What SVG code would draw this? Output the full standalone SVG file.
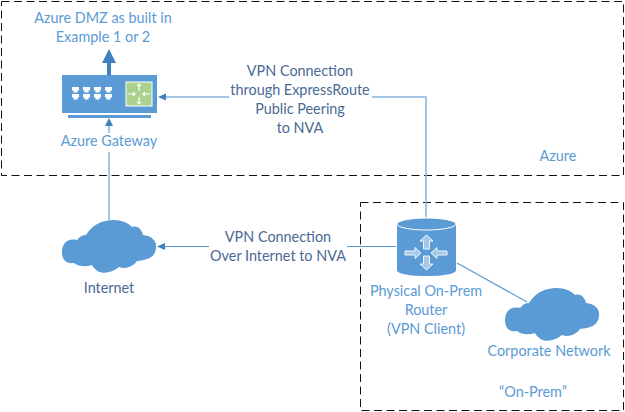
<svg xmlns="http://www.w3.org/2000/svg" width="625" height="412" viewBox="0 0 625 412">
<style>
text{font-family:Lato,"Liberation Sans",sans-serif;font-size:14.4px;text-anchor:middle}
.b{fill:#5b9bd5}
.d{fill:#4a6a94}
.zone{fill:none;stroke:#111;stroke-width:1;stroke-dasharray:8 4.500}
.c{fill:none;stroke:#5b9bd5;stroke-width:1.2}
.l{fill:none;stroke:#85b3de;stroke-width:1.500}
.h{fill:#3f80bd}
.w{fill:#fff}
.ar{fill:#fff;fill-opacity:.45;stroke:#fff;stroke-width:1;stroke-opacity:.85}
</style>
<defs>
<path id="cloud" class="b" d="M0 32C0 22 7 18 15 20C18 16 21 15 24 15C30 5 40 0 52 0C60 0 66 3 70 7C76 5 80 10 81 15C90 16 95 21 94 28C93 38 85 40 75 41C70 48 62 49 57 47C48 54 36 56 30 45C24 47 17 47 12 43C4 44 0 40 0 32Z"/>
</defs>
<g id="azure-zone"><rect class="zone" x="1.500" y="1.500" width="622" height="174"/><text class="b" x="558" y="161">Azure</text></g>
<g id="onprem-zone"><rect class="zone" x="360.500" y="202.500" width="263" height="208"/><text class="b" x="533" y="397">“On-Prem”</text></g>
<g id="connectors">
<path class="l" d="M109 220V152"/>
<path class="l" d="M109 133V126"/>
<path class="h" d="M109 118L113 126H105Z"/>
<path class="c" d="M396 246.500H164"/>
<path class="h" d="M157 246.500L165 243V250Z"/>
<path class="l" d="M426 217V97H165"/>
<path class="h" d="M158 97L166 93.500V100.500Z"/>
<path class="c" d="M457 263L527 302"/>
<path d="M109 75V62" stroke="#3f80bd" stroke-width="4" fill="none"/>
<path class="h" d="M109 49L116 63H102Z"/>
</g>
<g id="azure-dmz-label"><text class="b" x="103" y="23">Azure DMZ as built in</text><text class="b" x="103" y="42">Example 1 or 2</text></g>
<g id="azure-gateway">
<rect class="b" x="62" y="75" width="95" height="38"/>
<rect class="b" x="68" y="115" width="83" height="3"/>
<rect x="126" y="82" width="26" height="24" fill="#a9d18e" stroke="#fff"/>
<path class="w" d="M72 87h7v3.500h-1.500v2h-4v-2H72zM83 87h7v3.500h-1.500v2h-4v-2H83zM94 87h7v3.500h-1.500v2h-4v-2H94zM105 87h7v3.500h-1.500v2h-4v-2H105zM72 94h7v3.500h-1.500v2h-4v-2H72zM83 94h7v3.500h-1.500v2h-4v-2H83zM94 94h7v3.500h-1.500v2h-4v-2H94zM105 94h7v3.500h-1.500v2h-4v-2H105z"/>
<path d="M139 84v7M137 86l2-2 2 2M139 104v-7M137 102l2 2 2-2M128 94h7M133 92l2 2-2 2M150 94h-7M145 92l-2 2 2 2" fill="none" stroke="#fff" stroke-width="1.200"/>
<text class="b" x="109" y="146">Azure Gateway</text>
</g>
<g id="internet"><use href="#cloud" x="62" y="220"/><text class="d" x="109" y="293">Internet</text></g>
<g id="router">
<path class="b" d="M397 224V270C397 274 410 276 426.500 276S456 274 456 270V224Z"/>
<ellipse class="b" cx="426.500" cy="224" rx="29.500" ry="6" stroke="#fff" stroke-width="1"/>
<path class="ar" d="M423.500 249V241H420L426.500 235L433 241H429.500V249ZM423.500 256V264H420L426.500 270L433 264H429.500V256ZM405 251H415V247.500L421 253L415 258.500V255H405ZM447 251H437V247.500L431 253L437 258.500V255H447Z"/>
<text class="b" x="426" y="296">Physical On-Prem</text>
<text class="b" x="426" y="315">Router</text>
<text class="b" x="426" y="334">(VPN Client)</text>
</g>
<g id="corporate-network"><use href="#cloud" x="505" y="288"/><text class="b" x="549" y="356">Corporate Network</text></g>
<g id="label-expressroute">
<rect class="w" x="229" y="62" width="143" height="76"/>
<text class="d" x="300" y="76">VPN Connection</text>
<text class="d" x="300" y="95">through ExpressRoute</text>
<text class="d" x="300" y="114">Public Peering</text>
<text class="d" x="300" y="133">to NVA</text>
</g>
<g id="label-internet">
<rect class="w" x="209" y="228" width="138" height="38"/>
<text class="d" x="278" y="242">VPN Connection</text>
<text class="d" x="278" y="261">Over Internet to NVA</text>
</g>
</svg>
